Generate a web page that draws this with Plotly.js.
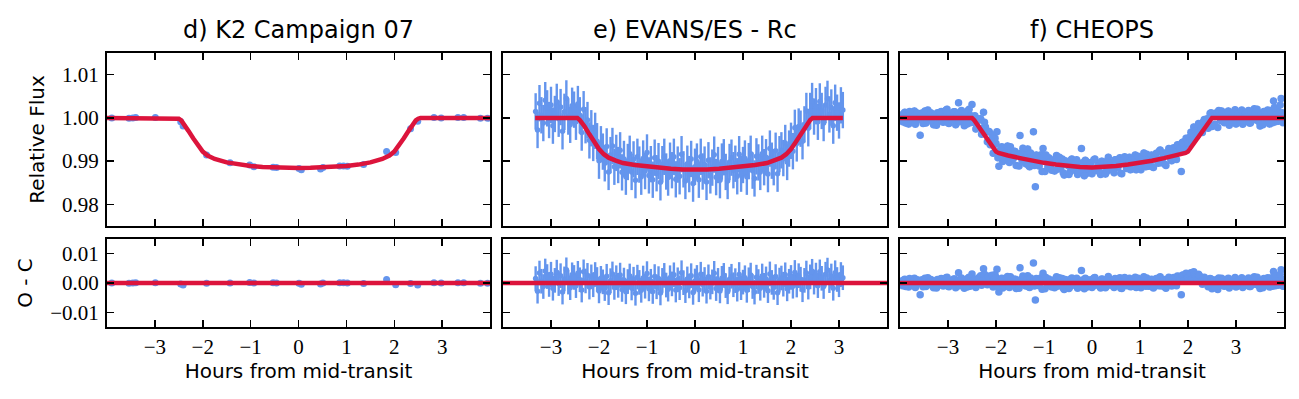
<!DOCTYPE html>
<html>
<head>
<meta charset="utf-8">
<script src="https://cdn.plot.ly/plotly-3.0.1.min.js"></script>
<style>html,body{margin:0;padding:0;background:#fff;}#chart{width:1299px;height:399px;}</style>
</head>
<body>
<div id="chart"></div>
<script>
// ---------------- data ----------------
const panelTitles = ['d) K2 Campaign 07', 'e) EVANS/ES - Rc', 'f) CHEOPS'];
const xTicks = [-3, -2, -1, 0, 1, 2, 3];
const fluxTicks = [0.98, 0.99, 1.00, 1.01];
const resTicks = [-0.01, 0.00, 0.01];
const xTitle = 'Hours from mid-transit';
const fluxTitle = 'Relative Flux';
const resTitle = 'O - C';

// K2 Campaign 07
const k2Time = [-3.90,-3.54,-3.46,-3.40,-2.99,-2.46,-2.41,-1.92,-1.43,-1.02,-0.93,-0.53,-0.46,0.01,0.06,0.46,0.51,0.86,0.94,1.02,1.36,1.84,2.03,2.34,2.49,2.83,2.98,3.33,3.45,3.80,3.95];
const k2Flux = [1.0000,0.9999,1.0000,1.0001,1.0001,0.9991,0.9981,0.9914,0.9896,0.9891,0.9887,0.9886,0.9885,0.9883,0.9880,0.9882,0.9885,0.9889,0.9889,0.9888,0.9892,0.9922,0.9920,0.9975,0.9992,1.0001,1.0000,1.0001,1.0001,0.9999,0.9999];
const k2Resid = [0.0000,-0.0001,0.0000,0.0001,0.0001,-0.0003,-0.0007,-0.0001,0.0000,0.0002,0.0000,0.0001,0.0000,-0.0001,-0.0004,-0.0003,0.0000,0.0001,0.0001,0.0000,-0.0002,0.0012,-0.0006,-0.0002,-0.0007,0.0001,0.0000,0.0001,0.0001,-0.0001,-0.0001];
const k2Err = 0.0002;
const k2ModelTime = [-4,-2.55,-2.5,-2.45,-2.4,-2.3,-2.2,-2.1,-2.0,-1.9,-1.75,-1.5,-1.25,-1.0,-0.75,-0.5,-0.25,0,0.25,0.5,0.75,1.0,1.25,1.5,1.75,1.9,2.0,2.1,2.2,2.3,2.4,2.45,2.5,2.55,4];
const k2ModelFlux = [1.0,1.0,0.9998,0.9994,0.9987,0.9970,0.9953,0.9936,0.9922,0.9913,0.9905,0.9897,0.9892,0.98888,0.98866,0.98852,0.98844,0.98842,0.98844,0.98852,0.98866,0.98888,0.9892,0.9897,0.9905,0.9913,0.9922,0.9936,0.9953,0.9970,0.9987,0.9994,0.9998,1.0,1.0];

// EVANS/ES - Rc
const evTime = [-3.32,-3.28,-3.24,-3.20,-3.16,-3.12,-3.08,-3.04,-3.00,-2.96,-2.92,-2.88,-2.84,-2.80,-2.76,-2.72,-2.68,-2.64,-2.60,-2.56,-2.52,-2.48,-2.44,-2.40,-2.36,-2.32,-2.28,-2.24,-2.20,-2.16,-2.12,-2.08,-2.04,-2.00,-1.96,-1.92,-1.88,-1.84,-1.80,-1.76,-1.72,-1.68,-1.64,-1.60,-1.56,-1.52,-1.48,-1.44,-1.40,-1.36,-1.32,-1.28,-1.24,-1.20,-1.16,-1.12,-1.08,-1.04,-1.00,-0.96,-0.92,-0.88,-0.84,-0.80,-0.76,-0.72,-0.68,-0.64,-0.60,-0.56,-0.52,-0.48,-0.44,-0.40,-0.36,-0.32,-0.28,-0.24,-0.20,-0.16,-0.12,-0.08,-0.04,0.00,0.04,0.08,0.12,0.16,0.20,0.24,0.28,0.32,0.36,0.40,0.44,0.48,0.52,0.56,0.60,0.64,0.68,0.72,0.76,0.80,0.84,0.88,0.92,0.96,1.00,1.04,1.08,1.12,1.16,1.20,1.24,1.28,1.32,1.36,1.40,1.44,1.48,1.52,1.56,1.60,1.64,1.68,1.72,1.76,1.80,1.84,1.88,1.92,1.96,2.00,2.04,2.08,2.12,2.16,2.20,2.24,2.28,2.32,2.36,2.40,2.44,2.48,2.52,2.56,2.60,2.64,2.68,2.72,2.76,2.80,2.84,2.88,2.92,2.96,3.00,3.04,3.08];
const evFlux = [1.0015,0.9972,1.0034,1.0006,0.9988,1.0041,1.0022,0.9995,1.0030,0.9982,1.0009,1.0037,0.9998,1.0025,0.9969,1.0014,1.0045,1.0003,0.9984,1.0028,1.0019,0.9991,1.0032,1.0006,0.9966,1.0020,0.9983,0.9995,0.9948,0.9976,0.9942,0.9970,0.9946,0.9901,0.9939,0.9922,0.9895,0.9934,0.9875,0.9914,0.9935,0.9887,0.9919,0.9891,0.9925,0.9874,0.9905,0.9864,0.9898,0.9917,0.9875,0.9904,0.9856,0.9910,0.9892,0.9864,0.9906,0.9877,0.9920,0.9867,0.9893,0.9857,0.9908,0.9872,0.9900,0.9851,0.9893,0.9910,0.9876,0.9862,0.9901,0.9879,0.9910,0.9858,0.9892,0.9865,0.9916,0.9881,0.9854,0.9894,0.9870,0.9905,0.9848,0.9887,0.9899,0.9857,0.9910,0.9876,0.9892,0.9852,0.9902,0.9867,0.9885,0.9915,0.9863,0.9891,0.9856,0.9899,0.9909,0.9875,0.9854,0.9898,0.9908,0.9879,0.9894,0.9865,0.9916,0.9871,0.9891,0.9906,0.9864,0.9900,0.9917,0.9878,0.9860,0.9911,0.9897,0.9875,0.9917,0.9886,0.9909,0.9870,0.9929,0.9901,0.9886,0.9924,0.9871,0.9916,0.9925,0.9907,0.9942,0.9898,0.9929,0.9947,0.9923,0.9977,0.9941,0.9980,0.9975,0.9946,0.9985,1.0016,0.9976,1.0016,1.0039,1.0003,1.0027,0.9991,1.0038,1.0016,0.9988,1.0030,1.0044,1.0008,1.0024,0.9982,1.0035,1.0012,0.9994,1.0029,1.0018];
const evResid = [0.0015,-0.0028,0.0034,0.0006,-0.0012,0.0041,0.0022,-0.0005,0.0030,-0.0018,0.0009,0.0037,-0.0002,0.0025,-0.0031,0.0014,0.0045,0.0003,-0.0016,0.0028,0.0019,-0.0009,0.0033,0.0011,-0.0024,0.0038,0.0007,0.0026,-0.0014,0.0021,-0.0006,0.0029,0.0012,-0.0027,0.0016,0.0004,-0.0019,0.0023,-0.0033,0.0008,0.0031,-0.0015,0.0018,-0.0008,0.0027,-0.0022,0.0010,-0.0030,0.0005,0.0024,-0.0017,0.0013,-0.0035,0.0020,0.0002,-0.0025,0.0017,-0.0011,0.0032,-0.0020,0.0006,-0.0029,0.0022,-0.0013,0.0015,-0.0034,0.0009,0.0026,-0.0007,-0.0021,0.0018,-0.0003,0.0028,-0.0024,0.0011,-0.0016,0.0035,0.0001,-0.0026,0.0014,-0.0010,0.0025,-0.0032,0.0007,0.0019,-0.0023,0.0030,-0.0004,0.0012,-0.0028,0.0021,-0.0014,0.0004,0.0033,-0.0019,0.0009,-0.0027,0.0016,0.0026,-0.0009,-0.0030,0.0013,0.0023,-0.0006,0.0008,-0.0021,0.0029,-0.0016,0.0003,0.0018,-0.0025,0.0011,0.0027,-0.0012,-0.0031,0.0020,0.0005,-0.0018,0.0024,-0.0008,0.0014,-0.0026,0.0031,0.0002,-0.0015,0.0022,-0.0033,0.0010,0.0017,-0.0004,0.0028,-0.0020,0.0006,0.0019,-0.0011,0.0036,-0.0007,0.0025,0.0013,-0.0023,0.0009,0.0034,-0.0014,0.0021,0.0040,0.0003,0.0027,-0.0009,0.0038,0.0016,-0.0012,0.0030,0.0044,0.0008,0.0024,-0.0018,0.0035,0.0012,-0.0006,0.0029,0.0018];
const evErr = 0.0042;
const evModelTime = [-3.33,-2.45,-2.40,-2.35,-2.30,-2.20,-2.10,-2.00,-1.90,-1.80,-1.65,-1.50,-1.25,-1.00,-0.75,-0.50,-0.25,0,0.25,0.50,0.75,1.00,1.25,1.50,1.65,1.80,1.90,2.00,2.10,2.20,2.30,2.35,2.40,2.45,3.08];
const evModelFlux = [1.0,1.0,0.9995,0.9989,0.9980,0.9962,0.9944,0.9928,0.9916,0.9908,0.9901,0.98955,0.9891,0.98875,0.9885,0.98825,0.98805,0.98795,0.98805,0.98825,0.9885,0.98875,0.9891,0.98955,0.9901,0.9908,0.9916,0.9928,0.9944,0.9962,0.9980,0.9989,0.9995,1.0,1.0];

// CHEOPS (two interleaved sets of exposures)
const chTimeA = [-3.98,-3.94,-3.90,-3.86,-3.82,-3.78,-3.74,-3.70,-3.66,-3.62,-3.58,-3.54,-3.50,-3.46,-3.42,-3.38,-3.34,-3.30,-3.26,-3.22,-3.18,-3.14,-3.10,-3.06,-3.02,-2.98,-2.94,-2.90,-2.86,-2.82,-2.78,-2.74,-2.70,-2.66,-2.62,-2.58,-2.54,-2.50,-2.46,-2.42,-2.38,-2.34,-2.30,-2.26,-2.22,-2.18,-2.14,-2.10,-2.06,-2.02,-1.98,-1.94,-1.90,-1.86,-1.82,-1.78,-1.74,-1.70,-1.66,-1.62,-1.58,-1.54,-1.50,-1.46,-1.42,-1.38,-1.34,-1.30,-1.26,-1.22,-1.18,-1.14,-1.10,-1.06,-1.02,-0.98,-0.94,-0.90,-0.86,-0.82,-0.78,-0.74,-0.70,-0.66,-0.62,-0.58,-0.54,-0.50,-0.46,-0.42,-0.38,-0.34,-0.30,-0.26,-0.22,-0.18,-0.14,-0.10,-0.06,-0.02,0.02,0.06,0.10,0.14,0.18,0.22,0.26,0.30,0.34,0.38,0.42,0.46,0.50,0.54,0.58,0.62,0.66,0.70,0.74,0.78,0.82,0.86,0.90,0.94,0.98,1.02,1.06,1.10,1.14,1.18,1.22,1.26,1.30,1.34,1.38,1.42,1.46,1.50,1.54,1.58,1.62,1.66,1.70,1.74,1.78,1.82,1.86,1.90,1.94,1.98,2.02,2.06,2.10,2.14,2.18,2.22,2.26,2.30,2.34,2.38,2.42,2.46,2.50,2.54,2.58,2.62,2.66,2.70,2.74,2.78,2.82,2.86,2.90,2.94,2.98,3.02,3.06,3.10,3.14,3.18,3.22,3.26,3.30,3.34,3.38,3.42,3.46,3.50,3.54,3.58,3.62,3.66,3.70,3.74,3.78,3.82,3.86,3.90,3.94,3.98];
const chFluxA = [1.0006,0.9991,1.0013,1.0002,0.9986,1.0008,0.9997,1.0016,0.9993,1.0001,0.9960,1.0011,1.0005,0.9988,1.0018,0.9996,1.0009,0.9984,1.0003,1.0012,0.9994,1.0015,0.9990,1.0004,1.0020,0.9987,1.0007,0.9998,1.0014,0.9991,1.0035,0.9995,1.0010,0.9982,1.0006,1.0017,0.9989,1.0031,0.9997,0.9974,0.9996,0.9995,0.9962,1.0013,0.9979,0.9945,0.9968,0.9949,0.9918,0.9953,0.9968,0.9888,0.9926,0.9899,0.9930,0.9918,0.9901,0.9933,0.9904,0.9923,0.9890,0.9916,0.9959,0.9903,0.9921,0.9894,0.9928,0.9887,0.9907,0.9968,0.9841,0.9911,0.9889,0.9915,0.9929,0.9876,0.9900,0.9908,0.9883,0.9900,0.9877,0.9913,0.9894,0.9883,0.9905,0.9868,0.9899,0.9890,0.9875,0.9905,0.9883,0.9899,0.9869,0.9894,0.9929,0.9877,0.9902,0.9872,0.9890,0.9897,0.9876,0.9905,0.9882,0.9893,0.9869,0.9899,0.9888,0.9875,0.9909,0.9882,0.9897,0.9873,0.9903,0.9886,0.9908,0.9871,0.9897,0.9902,0.9884,0.9909,0.9881,0.9898,0.9914,0.9888,0.9906,0.9880,0.9910,0.9896,0.9916,0.9888,0.9908,0.9887,0.9905,0.9918,0.9895,0.9926,0.9901,0.9919,0.9890,0.9915,0.9924,0.9901,0.9931,0.9915,0.9938,0.9924,0.9876,0.9944,0.9937,0.9952,0.9947,0.9967,0.9950,0.9972,0.9957,0.9987,0.9981,0.9966,0.9996,0.9992,0.9976,1.0010,0.9980,1.0007,1.0011,0.9978,1.0004,1.0016,0.9991,1.0002,1.0013,0.9983,1.0008,0.9994,1.0019,0.9989,1.0005,1.0014,0.9985,1.0010,0.9992,1.0017,0.9988,1.0006,1.0021,0.9995,1.0012,0.9981,1.0009,1.0015,0.9993,1.0018,0.9986,1.0011,1.0039,0.9991,1.0020,1.0006,1.0045,0.9989];
const chResidA = [0.0006,-0.0009,0.0013,0.0002,-0.0014,0.0008,-0.0003,0.0016,-0.0007,0.0001,-0.0040,0.0011,0.0005,-0.0012,0.0018,-0.0004,0.0009,-0.0016,0.0003,0.0012,-0.0006,0.0015,-0.0010,0.0004,0.0020,-0.0013,0.0007,-0.0002,0.0014,-0.0009,0.0035,-0.0005,0.0010,-0.0018,0.0006,0.0017,-0.0011,0.0031,0.0002,-0.0015,0.0013,0.0019,-0.0008,0.0049,0.0022,-0.0006,0.0024,0.0011,-0.0014,0.0028,0.0047,-0.0031,0.0009,-0.0017,0.0015,0.0004,-0.0012,0.0021,-0.0007,0.0013,-0.0019,0.0008,0.0052,-0.0003,0.0016,-0.0010,0.0025,-0.0015,0.0006,0.0068,-0.0058,0.0012,-0.0009,0.0018,0.0033,-0.0020,0.0005,0.0014,-0.0011,0.0007,-0.0016,0.0021,0.0003,-0.0008,0.0015,-0.0022,0.0010,0.0001,-0.0013,0.0017,-0.0005,0.0012,-0.0018,0.0008,0.0043,-0.0009,0.0016,-0.0014,0.0004,0.0011,-0.0010,0.0019,-0.0004,0.0007,-0.0017,0.0013,0.0002,-0.0012,0.0022,-0.0006,0.0009,-0.0015,0.0014,-0.0003,0.0018,-0.0019,0.0006,0.0011,-0.0008,0.0016,-0.0012,0.0004,0.0020,-0.0007,0.0010,-0.0016,0.0013,-0.0002,0.0017,-0.0011,0.0008,-0.0014,0.0003,0.0015,-0.0009,0.0021,-0.0005,0.0012,-0.0018,0.0006,0.0014,-0.0010,0.0019,0.0002,0.0024,0.0009,-0.0040,0.0027,0.0018,0.0031,0.0022,0.0035,0.0012,0.0028,0.0006,0.0030,0.0017,-0.0004,0.0020,0.0009,-0.0013,0.0015,-0.0020,0.0007,0.0011,-0.0022,0.0004,0.0016,-0.0009,0.0002,0.0013,-0.0017,0.0008,-0.0006,0.0019,-0.0011,0.0005,0.0014,-0.0015,0.0010,-0.0008,0.0017,-0.0012,0.0006,0.0021,-0.0005,0.0012,-0.0019,0.0009,0.0015,-0.0007,0.0018,-0.0014,0.0011,0.0039,-0.0009,0.0020,0.0006,0.0045,-0.0011];
const chTimeB = [-3.96,-3.92,-3.88,-3.84,-3.80,-3.76,-3.72,-3.68,-3.64,-3.60,-3.56,-3.52,-3.48,-3.44,-3.40,-3.36,-3.32,-3.28,-3.24,-3.20,-3.16,-3.12,-3.08,-3.04,-3.00,-2.96,-2.92,-2.88,-2.84,-2.80,-2.76,-2.72,-2.68,-2.64,-2.60,-2.56,-2.52,-2.48,-2.44,-2.40,-2.36,-2.32,-2.28,-2.24,-2.20,-2.16,-2.12,-2.08,-2.04,-2.00,-1.96,-1.92,-1.88,-1.84,-1.80,-1.76,-1.72,-1.68,-1.64,-1.60,-1.56,-1.52,-1.48,-1.44,-1.40,-1.36,-1.32,-1.28,-1.24,-1.20,-1.16,-1.12,-1.08,-1.04,-1.00,-0.96,-0.92,-0.88,-0.84,-0.80,-0.76,-0.72,-0.68,-0.64,-0.60,-0.56,-0.52,-0.48,-0.44,-0.40,-0.36,-0.32,-0.28,-0.24,-0.20,-0.16,-0.12,-0.08,-0.04,0.00,0.04,0.08,0.12,0.16,0.20,0.24,0.28,0.32,0.36,0.40,0.44,0.48,0.52,0.56,0.60,0.64,0.68,0.72,0.76,0.80,0.84,0.88,0.92,0.96,1.00,1.04,1.08,1.12,1.16,1.20,1.24,1.28,1.32,1.36,1.40,1.44,1.48,1.52,1.56,1.60,1.64,1.68,1.72,1.76,1.80,1.84,1.88,1.92,1.96,2.00,2.04,2.08,2.12,2.16,2.20,2.24,2.28,2.32,2.36,2.40,2.44,2.48,2.52,2.56,2.60,2.64,2.68,2.72,2.76,2.80,2.84,2.88,2.92,2.96,3.00,3.04,3.08,3.12,3.16,3.20,3.24,3.28,3.32,3.36,3.40,3.44,3.48,3.52,3.56,3.60,3.64,3.68,3.72,3.76,3.80,3.84,3.88,3.92,3.96];
const chFluxB = [0.9996,1.0010,0.9988,1.0007,1.0015,0.9992,1.0003,0.9985,1.0011,0.9998,1.0008,0.9987,1.0016,0.9995,1.0002,1.0012,0.9990,1.0006,0.9983,1.0004,1.0013,0.9993,1.0001,1.0018,0.9989,1.0009,0.9996,1.0014,0.9984,1.0006,0.9991,1.0017,0.9997,1.0011,0.9986,1.0020,1.0005,0.9990,1.0005,0.9980,0.9998,0.9998,0.9976,0.9990,0.9968,0.9969,0.9938,0.9961,0.9938,0.9941,0.9908,0.9925,0.9933,0.9906,0.9917,0.9935,0.9897,0.9921,0.9906,0.9922,0.9913,0.9889,0.9918,0.9930,0.9898,0.9913,0.9890,0.9919,0.9903,0.9890,0.9914,0.9893,0.9906,0.9876,0.9907,0.9914,0.9887,0.9898,0.9879,0.9903,0.9898,0.9881,0.9909,0.9888,0.9873,0.9901,0.9896,0.9869,0.9902,0.9889,0.9879,0.9903,0.9874,0.9891,0.9896,0.9866,0.9899,0.9883,0.9895,0.9871,0.9903,0.9879,0.9888,0.9874,0.9900,0.9892,0.9870,0.9898,0.9882,0.9896,0.9878,0.9903,0.9888,0.9901,0.9872,0.9897,0.9910,0.9883,0.9895,0.9880,0.9903,0.9898,0.9880,0.9911,0.9890,0.9906,0.9919,0.9887,0.9904,0.9897,0.9914,0.9885,0.9911,0.9905,0.9923,0.9896,0.9912,0.9893,0.9919,0.9929,0.9904,0.9923,0.9915,0.9904,0.9936,0.9930,0.9943,0.9926,0.9953,0.9941,0.9956,0.9949,0.9979,0.9969,0.9965,0.9985,0.9974,0.9991,0.9978,0.9998,0.9984,1.0012,1.0003,0.9985,1.0009,1.0017,0.9994,1.0012,0.9989,1.0005,1.0016,0.9991,1.0002,1.0013,0.9986,1.0008,0.9996,1.0018,0.9993,1.0011,1.0004,0.9988,1.0015,0.9997,1.0010,1.0020,0.9991,1.0006,0.9984,1.0013,1.0009,0.9995,1.0017,0.9989,1.0024,1.0007,0.9992,1.0030,1.0012];
const chResidB = [-0.0004,0.0010,-0.0012,0.0007,0.0015,-0.0008,0.0003,-0.0015,0.0011,-0.0002,0.0008,-0.0013,0.0016,-0.0005,0.0002,0.0012,-0.0010,0.0006,-0.0017,0.0004,0.0013,-0.0007,0.0001,0.0018,-0.0011,0.0009,-0.0004,0.0014,-0.0016,0.0006,-0.0009,0.0017,-0.0003,0.0011,-0.0014,0.0020,0.0005,-0.0008,0.0013,-0.0006,0.0018,0.0025,0.0009,0.0030,0.0014,0.0021,-0.0003,0.0026,0.0010,0.0019,-0.0012,0.0007,0.0016,-0.0009,0.0003,0.0022,-0.0015,0.0010,-0.0004,0.0013,0.0005,-0.0018,0.0012,0.0024,-0.0007,0.0009,-0.0013,0.0017,0.0002,-0.0010,0.0015,-0.0005,0.0008,-0.0021,0.0011,0.0019,-0.0008,0.0004,-0.0014,0.0010,0.0006,-0.0011,0.0018,-0.0002,-0.0017,0.0012,0.0007,-0.0019,0.0014,0.0001,-0.0008,0.0016,-0.0013,0.0005,0.0010,-0.0020,0.0013,-0.0003,0.0009,-0.0015,0.0017,-0.0007,0.0002,-0.0012,0.0014,0.0006,-0.0016,0.0011,-0.0005,0.0008,-0.0010,0.0015,-0.0001,0.0012,-0.0018,0.0007,0.0019,-0.0009,0.0003,-0.0013,0.0010,0.0004,-0.0015,0.0016,-0.0006,0.0009,0.0021,-0.0011,0.0005,-0.0003,0.0013,-0.0017,0.0008,0.0001,0.0018,-0.0010,0.0006,-0.0014,0.0011,0.0020,-0.0006,0.0012,0.0003,-0.0009,0.0022,0.0015,0.0026,0.0008,0.0033,0.0019,0.0028,0.0014,0.0038,0.0021,0.0011,0.0025,0.0007,0.0018,-0.0002,0.0012,-0.0008,0.0014,0.0003,-0.0015,0.0009,0.0017,-0.0006,0.0012,-0.0011,0.0005,0.0016,-0.0009,0.0002,0.0013,-0.0014,0.0008,-0.0004,0.0018,-0.0007,0.0011,0.0004,-0.0012,0.0015,-0.0003,0.0010,0.0020,-0.0009,0.0006,-0.0016,0.0013,0.0009,-0.0005,0.0017,-0.0011,0.0024,0.0007,-0.0008,0.0030,0.0012];
const chErr = 0.0008;
const chModelTime = [-4,-2.5,-2.45,-2.4,-2.3,-2.2,-2.1,-2.0,-1.95,-1.9,-1.75,-1.5,-1.25,-1.0,-0.75,-0.5,-0.25,0,0.25,0.5,0.75,1.0,1.25,1.5,1.75,1.9,1.95,2.0,2.1,2.2,2.3,2.4,2.45,2.5,4];
const chModelFlux = [1.0,1.0,0.9994,0.9986,0.9970,0.9954,0.9938,0.9922,0.9919,0.9917,0.9913,0.9907,0.9901,0.9896,0.9892,0.98885,0.98862,0.98855,0.98862,0.98885,0.9892,0.9896,0.9901,0.9907,0.9913,0.9917,0.9919,0.9922,0.9938,0.9954,0.9970,0.9986,0.9994,1.0,1.0];

const residZeroTime = [-4, 4];
const residZero = [0, 0];

// ---------------- styling ----------------
const BLUE = '#6495ED';
const RED = '#DC143C';
const W = 1299, H = 399;
const xDoms = [[107, 490], [503, 887], [900, 1284]].map(p => [p[0] / W, p[1] / W]);
const yTopDom = [1 - 226 / H, 1 - 53 / H];
const yBotDom = [1 - 327 / H, 1 - 239 / H];
const SERIF = 'Liberation Serif';
const tickFont = {family: SERIF, size: 21, color: '#000'};
const labFont = {family: 'DejaVu Sans', size: 20, color: '#000'};

const panels = [
  {t: k2Time, f: k2Flux, r: k2Resid, e: k2Err, mt: k2ModelTime, mf: k2ModelFlux, ms: 7, et: 1.5},
  {t: evTime, f: evFlux, r: evResid, e: evErr, mt: evModelTime, mf: evModelFlux, ms: 5.5, et: 2.4},
  {t: chTimeA.concat(chTimeB), f: chFluxA.concat(chFluxB), r: chResidA.concat(chResidB), e: chErr,
   mt: chModelTime, mf: chModelFlux, ms: 7.5, et: 1.2}
];

const traces = [];
const layout = {
  width: W, height: H,
  margin: {l: 0, r: 0, t: 0, b: 0},
  paper_bgcolor: '#fff', plot_bgcolor: '#fff',
  font: {family: SERIF, size: 21, color: '#000'},
  showlegend: false,
  annotations: []
};

function axBase() {
  return {
    showline: true, linecolor: '#000', linewidth: 2, mirror: 'ticks',
    ticks: 'inside', ticklen: 7, tickwidth: 1.5, tickcolor: '#000',
    showgrid: false, zeroline: false,
    tickfont: {family: tickFont.family, size: tickFont.size, color: tickFont.color}
  };
}

panels.forEach((p, i) => {
  const nTop = 2 * i + 1, nBot = 2 * i + 2;
  const xT = 'x' + (nTop === 1 ? '' : nTop), yT = 'y' + (nTop === 1 ? '' : nTop);
  const xB = 'x' + nBot, yB = 'y' + nBot;
  traces.push({type: 'scatter', mode: 'markers', x: p.t, y: p.f, xaxis: xT, yaxis: yT,
    marker: {color: BLUE, size: p.ms, line: {width: 0}},
    error_y: {type: 'constant', value: p.e, color: BLUE, thickness: p.et, width: 0},
    hoverinfo: 'skip'});
  traces.push({type: 'scatter', mode: 'lines', x: p.mt, y: p.mf, xaxis: xT, yaxis: yT,
    line: {color: RED, width: 4.5}, hoverinfo: 'skip'});
  traces.push({type: 'scatter', mode: 'markers', x: p.t, y: p.r, xaxis: xB, yaxis: yB,
    marker: {color: BLUE, size: p.ms, line: {width: 0}},
    error_y: {type: 'constant', value: p.e, color: BLUE, thickness: p.et, width: 0},
    hoverinfo: 'skip'});
  traces.push({type: 'scatter', mode: 'lines', x: residZeroTime, y: residZero, xaxis: xB, yaxis: yB,
    line: {color: RED, width: 4.5}, hoverinfo: 'skip'});

  const xTop = Object.assign(axBase(), {domain: xDoms[i], range: [-4, 4], tickvals: xTicks,
    showticklabels: false, anchor: yT});
  const xBot = Object.assign(axBase(), {domain: xDoms[i], range: [-4, 4], tickvals: xTicks,
    showticklabels: true, anchor: yB,
    title: {text: xTitle, font: labFont, standoff: 6}});
  const yTop = Object.assign(axBase(), {domain: yTopDom, range: [0.975, 1.015], tickvals: fluxTicks,
    tickformat: '.2f', showticklabels: i === 0, anchor: xT, ticklabelstandoff: 2});
  const yBot = Object.assign(axBase(), {domain: yBotDom, range: [-0.015, 0.015], tickvals: resTicks,
    tickformat: '.2f', showticklabels: i === 0, anchor: xB, ticklabelstandoff: 2});
  if (i === 0) {
    yTop.title = {text: fluxTitle, font: labFont, standoff: 12};
    yBot.title = {text: resTitle, font: labFont, standoff: 12};
  }
  layout['xaxis' + (nTop === 1 ? '' : nTop)] = xTop;
  layout['xaxis' + nBot] = xBot;
  layout['yaxis' + (nTop === 1 ? '' : nTop)] = yTop;
  layout['yaxis' + nBot] = yBot;

  layout.annotations.push({
    text: panelTitles[i], xref: 'paper', yref: 'paper',
    x: (xDoms[i][0] + xDoms[i][1]) / 2, y: 1 - 30 / H,
    xanchor: 'center', yanchor: 'middle', showarrow: false,
    font: {family: 'DejaVu Sans', size: 24, color: '#000'}
  });
});

Plotly.newPlot('chart', traces, layout, {staticPlot: true, displayModeBar: false});
</script>
</body>
</html>
